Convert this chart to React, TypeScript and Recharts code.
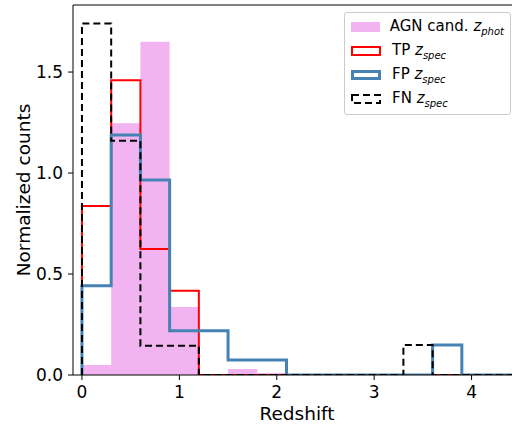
import React from 'react';
import { ComposedChart, Area, Line, XAxis, YAxis, ReferenceLine } from 'recharts';

// histogram bins: width 0.3, from 0 to 4.5
const binEdges = [0, 0.3, 0.6, 0.9, 1.2, 1.5, 1.8, 2.1, 2.4, 2.7, 3.0, 3.3, 3.6, 3.9, 4.2, 4.5];
const agnPhot = [0.05, 1.246, 1.65, 0.337, 0, 0.03, 0.01, 0, 0, 0, 0, 0, 0, 0, 0];
const tpSpec = [0.837, 1.46, 0.624, 0.417, 0, 0, 0, 0, 0, 0, 0, 0, 0, 0, 0];
const fpSpec = [0.442, 1.188, 0.965, 0.219, 0.219, 0.074, 0.074, 0, 0, 0, 0, 0, 0.148, 0, 0];
const fnSpec = [1.741, 1.16, 0.145, 0.145, 0, 0, 0, 0, 0, 0, 0, 0.148, 0, 0, 0];

const xTicks = [0, 1, 2, 3, 4];
const yTicks = [0, 0.5, 1.0, 1.5];

const legendItems = [
  { key: 'agn', label: 'AGN cand.', sub: 'phot' },
  { key: 'tp', label: 'TP', sub: 'spec' },
  { key: 'fp', label: 'FP', sub: 'spec' },
  { key: 'fn', label: 'FN', sub: 'spec' },
];

const X_MIN = -0.092;
const X_MAX = 4.415;
const Y_MAX = 1.832;
const FONT = '"DejaVu Sans", sans-serif';

const PINK = '#f2b4f0';
const RED = '#ff0000';
const BLUE = '#4682b4';

// step series: start at 0 on the first edge, drop back to 0 at the last one
const data = [
  { x: binEdges[0], agn: 0, tp: 0, fp: 0, fn: 0 },
  ...agnPhot.map((v, i) => ({ x: binEdges[i], agn: v, tp: tpSpec[i], fp: fpSpec[i], fn: fnSpec[i] })),
  { x: binEdges[binEdges.length - 1], agn: 0, tp: 0, fp: 0, fn: 0 },
];

const Handle = ({ kind }: { kind: string }) => (
  <svg width={32} height={14} style={{ display: 'block' }}>
    {kind === 'agn' && <rect x={1} y={2} width={30} height={10} fill={PINK} />}
    {kind === 'tp' && <rect x={2} y={3} width={28} height={8} fill="none" stroke={RED} strokeWidth={2} />}
    {kind === 'fp' && <rect x={2.5} y={3.5} width={27} height={7} fill="none" stroke={BLUE} strokeWidth={3} />}
    {kind === 'fn' && (
      <rect x={2} y={3} width={28} height={8} fill="none" stroke="#000" strokeWidth={2} strokeDasharray="7 4" />
    )}
  </svg>
);

const LegendBox = () => (
  <div
    style={{
      position: 'absolute',
      left: 344,
      top: 12,
      border: '1px solid #cccccc',
      borderRadius: 3,
      background: 'rgba(255,255,255,0.8)',
      padding: '2px 6px 3px 5px',
      fontFamily: FONT,
      fontSize: 15,
      width: 167,
      boxSizing: 'border-box',
    }}
  >
    {legendItems.map((it) => (
      <div key={it.key} style={{ display: 'flex', alignItems: 'center', height: 24 }}>
        <Handle kind={it.key} />
        <span style={{ marginLeft: 10, whiteSpace: 'nowrap' }}>
          {it.label} <i>z</i>
          <sub style={{ fontSize: 10, fontStyle: 'italic' }}>{it.sub}</sub>
        </span>
      </div>
    ))}
  </div>
);

const YLabel = () => (
  <text
    x={30}
    y={190}
    transform="rotate(-90, 30, 190)"
    textAnchor="middle"
    fontFamily={FONT}
    fontSize={18.5}
    fill="#000"
  >
    Normalized counts
  </text>
);

const XLabel = () => (
  <text x={297} y={420} textAnchor="middle" fontFamily={FONT} fontSize={18.5} fill="#000">
    Redshift
  </text>
);

export default function App() {
  return (
    <div style={{ position: 'absolute', left: 0, top: 0, width: 512, height: 427, background: '#fff' }}>
      <ComposedChart width={512} height={427} data={data} margin={{ top: 5, right: 0, left: 0, bottom: 0 }}>
        <XAxis
          dataKey="x"
          type="number"
          domain={[X_MIN, X_MAX]}
          allowDataOverflow
          ticks={xTicks}
          height={52}
          tickSize={5}
          tickMargin={6}
          stroke="#000"
          tick={{ fill: '#000', fontSize: 17, fontFamily: FONT }}
          label={<XLabel />}
        />
        <YAxis
          type="number"
          domain={[0, Y_MAX]}
          allowDataOverflow
          ticks={yTicks}
          width={73}
          tickSize={5}
          tickMargin={5}
          stroke="#000"
          tickFormatter={(v: number) => v.toFixed(1)}
          tick={{ fill: '#000', fontSize: 17, fontFamily: FONT }}
          label={<YLabel />}
        />
        <ReferenceLine y={Y_MAX} stroke="#000" strokeWidth={1} />
        <Area
          dataKey="agn"
          type="stepAfter"
          fill={PINK}
          fillOpacity={1}
          stroke="none"
          isAnimationActive={false}
        />
        <Line
          dataKey="tp"
          type="stepAfter"
          stroke={RED}
          strokeWidth={2}
          strokeLinejoin="miter"
          dot={false}
          isAnimationActive={false}
        />
        <Line
          dataKey="fp"
          type="stepAfter"
          stroke={BLUE}
          strokeWidth={3}
          strokeLinejoin="miter"
          dot={false}
          isAnimationActive={false}
        />
        <Line
          dataKey="fn"
          type="stepAfter"
          stroke="#000"
          strokeWidth={2}
          strokeDasharray="7 4"
          strokeLinejoin="miter"
          dot={false}
          isAnimationActive={false}
        />
      </ComposedChart>
      <LegendBox />
    </div>
  );
}
